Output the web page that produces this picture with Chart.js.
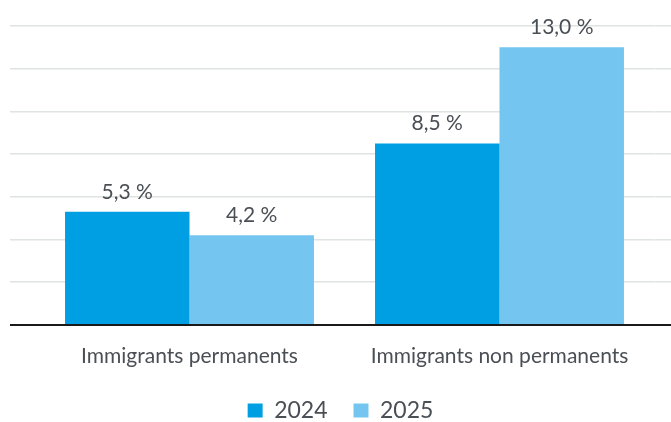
<!DOCTYPE html>
<html>
<head>
<meta charset="utf-8">
<script src="https://cdn.jsdelivr.net/npm/chart.js@4.4.0/dist/chart.umd.min.js"></script>
<style>
  html, body { margin: 0; padding: 0; background: #fff; }
  #wrap { width: 671px; height: 422px; }
</style>
</head>
<body>
<div id="wrap"><canvas id="immChart"></canvas></div>
<script>
const categories = ['Immigrants permanents', 'Immigrants non permanents'];
const seriesNames = ['2024', '2025'];
const values2024 = [5.3, 8.5];
const values2025 = [4.2, 13.0];
const yTicks = [0, 2, 4, 6, 8, 10, 12, 14];

const textColor = '#4a4f55';
const fontFamily = 'Lato, "Open Sans", sans-serif';

// zero line is drawn by the baseline plugin, so hide it here
const gridColor = ctx => (ctx.tick && ctx.tick.value === 0) ? 'rgba(0,0,0,0)' : '#dfe3e3';

// labels above the bars, e.g. "5,3 %", plus the black baseline across the full width
const barLabels = {
  id: 'barLabels',
  afterDatasetsDraw(chart) {
    const c = chart.ctx;
    const y0 = Math.round(chart.scales.y.getPixelForValue(0));
    c.save();
    c.strokeStyle = '#1a1a1a';
    c.lineWidth = 2;
    c.beginPath();
    c.moveTo(chart.scales.y.left, y0);
    c.lineTo(chart.scales.y2.right, y0);
    c.stroke();

    c.fillStyle = textColor;
    c.font = '21px ' + fontFamily;
    c.textAlign = 'center';
    c.textBaseline = 'alphabetic';
    chart.data.datasets.forEach((ds, i) => {
      chart.getDatasetMeta(i).data.forEach((bar, j) => {
        const txt = ds.data[j].toFixed(1).replace('.', ',') + ' %';
        c.fillText(txt, bar.x, bar.y - 13);
      });
    });
    c.restore();
  }
};

new Chart(document.getElementById('immChart'), {
  type: 'bar',
  data: {
    labels: categories,
    datasets: [{
      label: seriesNames[0],
      data: values2024,
      backgroundColor: '#009fe3'
    }, {
      label: seriesNames[1],
      data: values2025,
      backgroundColor: '#74c6f1'
    }]
  },
  options: {
    responsive: true,
    maintainAspectRatio: false,
    animation: false,
    categoryPercentage: 0.803,
    barPercentage: 1,
    layout: {
      padding: { left: 10, right: 0, top: 26, bottom: -10 }
    },
    scales: {
      x: {
        grid: { display: false, drawTicks: false },
        border: { display: false },
        ticks: {
          color: textColor,
          font: { family: fontFamily, size: 21 },
          padding: 19
        },
        afterFit: axis => { axis.height -= 15; }
      },
      y: {
        position: 'left',
        min: 0,
        max: 14,
        afterBuildTicks: axis => { axis.ticks = yTicks.map(v => ({ value: v })); },
        ticks: { display: false },
        border: { display: false },
        grid: { color: gridColor, lineWidth: 1.5, tickLength: 24.5 }
      },
      y2: {
        position: 'right',
        min: 0,
        max: 14,
        afterBuildTicks: axis => { axis.ticks = yTicks.map(v => ({ value: v })); },
        ticks: { display: false },
        border: { display: false },
        grid: { color: gridColor, lineWidth: 1.5, tickLength: 16.5, drawOnChartArea: false }
      }
    },
    plugins: {
      legend: {
        position: 'bottom',
        labels: {
          boxWidth: 15,
          boxHeight: 14,
          padding: 26,
          color: textColor,
          font: { family: fontFamily, size: 23 }
        }
      },
      tooltip: { enabled: false }
    }
  },
  plugins: [barLabels]
});
</script>
</body>
</html>
